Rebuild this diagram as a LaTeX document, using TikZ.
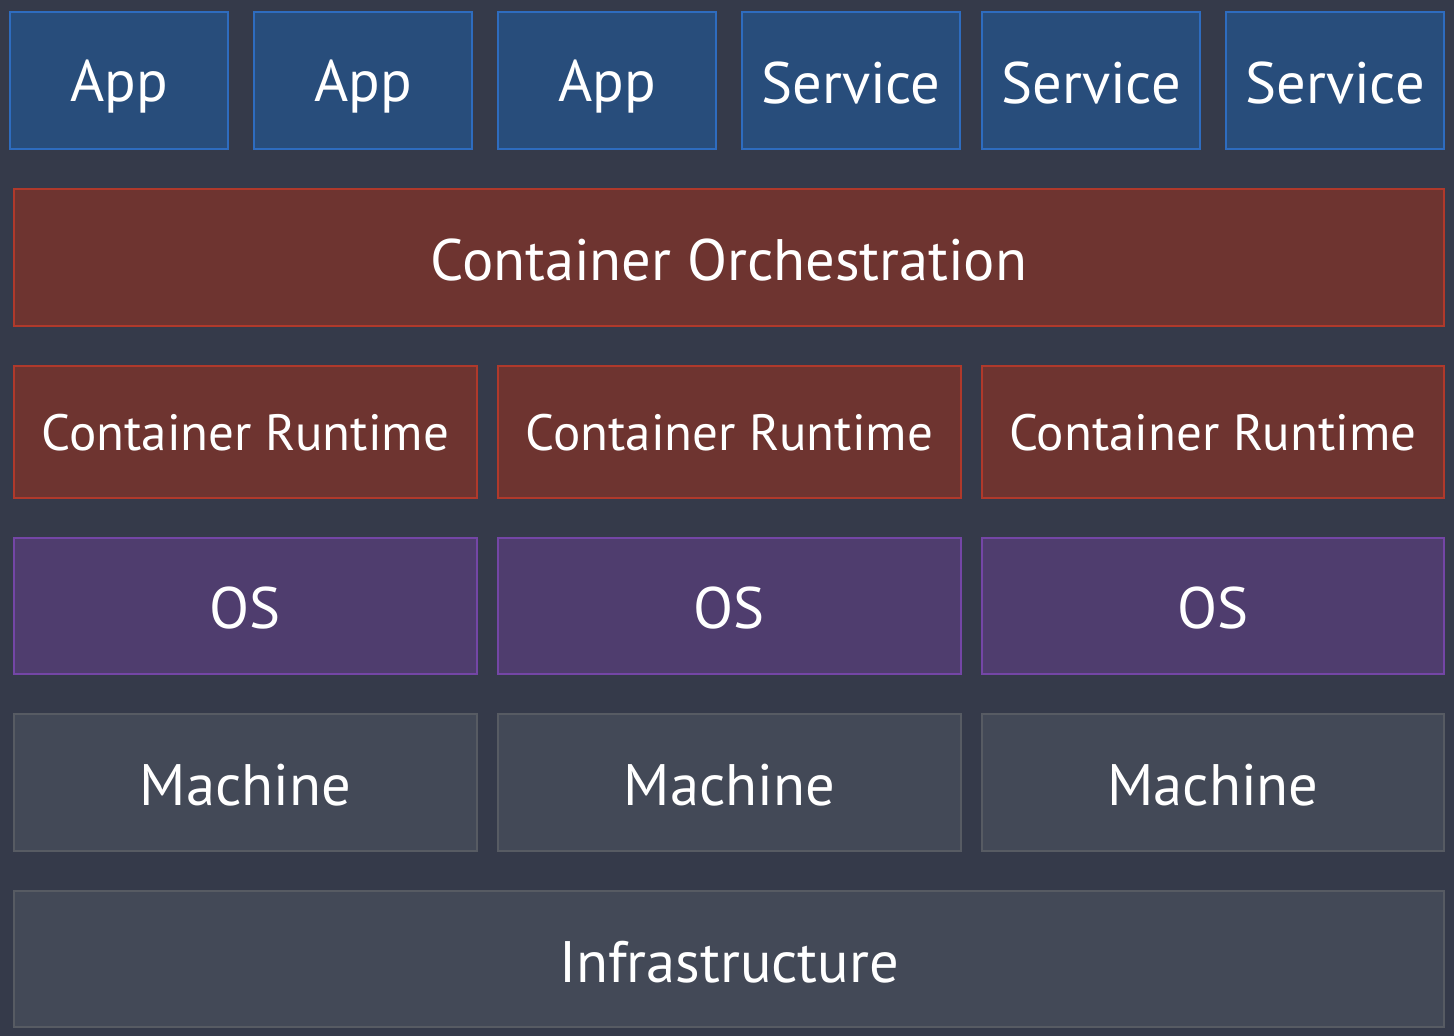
\documentclass[tikz,border=0pt]{standalone}
\usepackage{fontspec}
\setmainfont{PT Sans}
\definecolor{bg}{HTML}{353A4A}
\definecolor{appfill}{HTML}{284D7B}
\definecolor{appline}{HTML}{2E6CBF}
\definecolor{redfill}{HTML}{6E3430}
\definecolor{redline}{HTML}{B0392B}
\definecolor{purfill}{HTML}{4F3D6E}
\definecolor{purline}{HTML}{7446A6}
\definecolor{grayfill}{HTML}{434957}
\definecolor{grayline}{HTML}{575B63}
\newcommand{\lowr}[2]{\raisebox{-#1}[\height][\depth]{#2}}
\tikzset{
  box/.style={draw, line width=1.5pt, text=white, inner sep=0pt, font=\fontsize{58.5}{62}\selectfont},
  appbox/.style={box, fill=appfill, draw=appline, minimum width=218pt, minimum height=137pt},
  redbox/.style={box, fill=redfill, draw=redline},
  purbox/.style={box, fill=purfill, draw=purline, minimum height=136pt},
  graybox/.style={box, fill=grayfill, draw=grayline},
}
\begin{document}
\begin{tikzpicture}[x=1pt,y=-1pt]
\fill[bg] (0,0) rectangle (1454,1036);
\useasboundingbox (0,0) rectangle (1454,1036);
% row 1
\node[appbox] (a1) at (119,80.5) {\lowr{6pt}{App}};
\node[appbox] (a2) at (363,80.5) {\lowr{6pt}{App}};
\node[appbox] (a3) at (607,80.5) {\lowr{6pt}{App}};
\node[appbox] (s1) at (851,80.5) {\lowr{3pt}{Service}};
\node[appbox] (s2) at (1091,80.5) {\lowr{3pt}{Service}};
\node[appbox] (s3) at (1335,80.5) {\lowr{3pt}{Service}};
% row 2
\node[redbox, minimum width=1430pt, minimum height=137pt] (orch) at (729,257.5) {\lowr{3pt}{Container Orchestration}};
% row 3
\node[redbox, font=\fontsize{51}{54}\selectfont, minimum width=463pt, minimum height=132pt] (r1) at (245.5,432) {\lowr{1pt}{Container Runtime}};
\node[redbox, font=\fontsize{51}{54}\selectfont, minimum width=463pt, minimum height=132pt] (r2) at (729.5,432) {\lowr{1pt}{Container Runtime}};
\node[redbox, font=\fontsize{51}{54}\selectfont, minimum width=462pt, minimum height=132pt] (r3) at (1213,432) {\lowr{1pt}{Container Runtime}};
% row 4
\node[purbox, minimum width=463pt] (o1) at (245.5,606) {\lowr{2pt}{OS}};
\node[purbox, minimum width=463pt] (o2) at (729.5,606) {\lowr{2pt}{OS}};
\node[purbox, minimum width=462pt] (o3) at (1213,606) {\lowr{2pt}{OS}};
% row 5
\node[graybox, minimum width=463pt, minimum height=137pt] (m1) at (245.5,782.5) {\lowr{3pt}{Machine}};
\node[graybox, minimum width=463pt, minimum height=137pt] (m2) at (729.5,782.5) {\lowr{3pt}{Machine}};
\node[graybox, minimum width=462pt, minimum height=137pt] (m3) at (1213,782.5) {\lowr{3pt}{Machine}};
% row 6
\node[graybox, minimum width=1430pt, minimum height=136pt] (infra) at (729,959) {\lowr{3pt}{Infrastructure}};
\end{tikzpicture}
\end{document}
